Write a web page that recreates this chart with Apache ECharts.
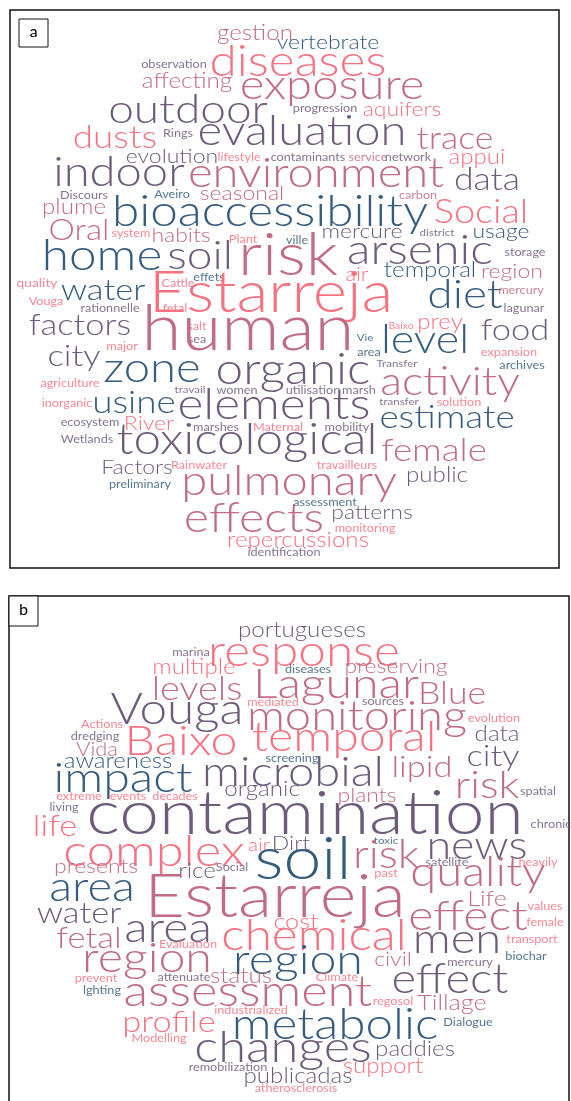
<!DOCTYPE html>
<html>
<head>
<meta charset="utf-8">
<script src="https://cdn.jsdelivr.net/npm/echarts@6/dist/echarts.min.js"></script>
<style>
  html, body { margin: 0; padding: 0; background: #fff; }
  #main { width: 571px; height: 1101px; }
</style>
</head>
<body>
<div id="main"></div>
<script>
// palette of the word cloud: blue, purple, mauve, pink
var palette = ['#355C7D', '#6C5B7B', '#C06C84', '#F67280'];
// the cloud font is wider than Lato, words get stretched a bit
var stretch = 1.15;

// panel a : word, centre (x, y on the page scale), weight, colour group
var wordsA = ['gestion','vertebrate','observation','diseases','affecting','exposure','progression','aquifers','outdoor','dusts',
  'Rings','evaluation','trace','evolution','lifestyle','contaminants','service','network','appui','indoor',
  'environment','data','Discours','Aveiro','seasonal','carbon','bioaccessibility','Social','plume','Oral',
  'system','habits','Plant','ville','mercure','district','usage','home','soil','risk',
  'arsenic','storage','temporal','air','region','quality','water','Cattle','effets','Estarreja',
  'diet','mercury','lagunar','Vouga','rationnelle','fetal','factors','salt','sea','human',
  'prey','Baixo','food','Vie','level','area','expansion','city','major','zone',
  'organic','Transfer','archives','activity','agriculture','travail','women','utilisation','marsh','inorganic',
  'usine','elements','transfer','solution','estimate','ecosystem','River','marshes','Maternal','mobility',
  'Wetlands','toxicological','female','Factors','Rainwater','travailleurs','preliminary','pulmonary','public','effects',
  'assessment','patterns','monitoring','repercussions','identification'];
var xA = [255,328,174,298,187,332,325,402,188,115,
  178,302,455,172,239,308,368,408,477,119,
  316,487,84,172,242,418,270,481,74,79,
  131,181,243,297,362,437,501,102,200,288,
  420,525,430,357,512,37,103,178,209,271,
  465,521,524,46,110,175,80,197,197,248,
  440,401,515,365,425,369,509,74,122,152,
  293,397,522,450,70,190,237,313,359,67,
  134,274,399,459,447,90,149,216,278,347,
  87,247,434,137,199,347,140,289,437,254,
  325,372,365,298,284];
var yA = [33,43,64,62,81,86,108,110,110,138,
  133,132,139,157,157,157,157,157,157,173,
  174,180,195,194,194,195,212,212,207,231,
  233,236,239,240,232,233,232,256,256,256,
  250,252,270,275,272,283,290,283,277,294,
  295,290,308,301,308,308,325,326,339,330,
  322,326,330,338,340,352,352,356,346,369,
  370,364,365,382,383,390,390,390,390,403,
  403,405,402,402,418,422,424,427,427,427,
  439,440,451,468,465,465,484,482,475,518,
  502,513,528,540,552];
var freqA = [21,20,11,43,21,41,11,20,40,32,
  11,41,31,20,11,11,11,11,21,41,
  41,31,11,11,20,11,43,33,21,29,
  11,20,11,11,20,10,20,43,40,59,
  42,11,21,19,20,12,30,11,11,57,
  40,11,11,11,11,11,30,11,11,63,
  21,9,30,10,39,11,11,30,11,41,
  43,10,11,39,11,10,11,11,11,11,
  32,43,10,11,32,11,20,11,11,11,
  11,43,32,20,11,11,11,41,21,42,
  11,20,11,21,11];
var toneA = [2,0,1,3,2,2,1,3,1,3,
  1,1,2,1,3,1,2,1,3,1,
  2,1,1,0,2,2,0,3,2,2,
  3,2,3,0,1,1,0,0,1,2,
  1,1,0,3,2,3,0,3,0,3,
  0,2,1,3,1,3,1,3,1,2,
  3,3,1,0,0,0,3,1,3,0,
  1,1,0,2,3,1,1,1,1,3,
  0,1,1,3,0,1,3,1,3,1,
  1,1,2,1,3,3,0,2,1,2,
  0,1,3,3,1];

// panel b
var wordsB = ['portugueses','marina','response','multiple','diseases','preserving','levels','Lagunar','Blue','mediated',
  'sources','Vouga','monitoring','evolution','Actions','dredging','data','Baixo','temporal','Vida',
  'screening','city','awareness','impact','microbial','lipid','organic','risk','spatial','extreme',
  'events','decades','plants','living','contamination','life','chronic','complex','air','Dirt',
  'toxic','news','soil','risk','heavily','satellite','presents','rice','Social','past',
  'quality','area','Estarreja','Life','values','water','effect','female','area','cost',
  'transport','fetal','chemical','men','Evaluation','region','region','civil','mercury','biochar',
  'prevent','attenuate','status','Climate','effect','lghting','assessment','regosol','Tillage','industrialized',
  'Dialogue','profile','metabolic','Modelling','changes','paddies','remobilization','support','publicadas','atherosclerosis'];
var xB = [302,191,304,194,308,396,197,336,452,273,
  383,177,357,494,102,95,497,181,344,97,
  292,493,118,123,293,422,262,487,538,79,
  128,175,367,64,305,55,551,154,259,291,
  386,477,303,386,538,447,96,197,232,386,
  478,92,275,487,545,79,468,545,168,296,
  532,89,314,457,188,147,298,393,470,526,
  96,184,241,337,450,102,248,393,452,251,
  468,169,335,159,283,415,228,383,298,296];
var yB = [630,652,652,667,669,667,689,684,694,702,
  701,710,717,718,724,736,734,741,737,750,
  758,756,761,778,773,767,789,786,791,796,
  796,796,796,807,814,826,824,852,845,844,
  841,846,860,855,862,862,867,871,867,873,
  873,888,897,899,906,913,916,922,928,922,
  939,938,936,940,944,958,960,960,962,956,
  978,977,976,977,980,990,992,1001,1003,1010,
  1022,1022,1025,1038,1048,1049,1067,1066,1076,1088];
var freqB = [21,11,43,21,11,20,33,42,31,11,
  11,43,41,11,11,11,21,42,42,19,
  11,30,21,42,41,30,21,38,11,11,
  11,11,20,11,62,30,11,44,18,20,
  10,39,59,39,11,11,20,21,11,11,
  41,41,61,22,11,30,42,11,42,22,
  11,30,43,41,11,42,42,20,11,11,
  11,11,21,11,41,11,44,11,22,11,
  11,30,43,11,44,21,11,21,21,11];
var toneB = [1,1,3,3,0,2,2,2,2,3,
  1,1,2,3,3,1,1,3,3,2,
  0,1,0,0,1,2,1,2,1,3,
  3,3,2,1,1,3,1,3,3,1,
  0,1,0,2,3,1,2,1,1,3,
  2,0,2,2,3,1,2,3,1,3,
  3,2,3,1,3,2,0,2,1,0,
  3,1,2,3,1,0,2,3,2,3,
  0,3,0,3,1,1,1,3,1,3];

function buildData(xs, ys, freqs, tones) {
  var out = [];
  for (var i = 0; i < xs.length; i++) {
    out.push([xs[i], ys[i], freqs[i], tones[i]]);
  }
  return out;
}

function cloudSeries(words, data) {
  return {
    type: 'custom',
    silent: true,
    encode: { x: 0, y: 1 },
    data: data,
    renderItem: function(params, api) {
      var pt = api.coord([api.value(0), api.value(1)]);
      var size = api.value(2);
      return {
        type: 'text',
        x: pt[0],
        y: pt[1],
        scaleX: stretch,
        style: {
          text: words[params.dataIndex],
          fontSize: size,
          fontFamily: 'Lato',
          fontWeight: size >= 15 ? 300 : 400,
          fill: palette[api.value(3)],
          opacity: size < 14 ? 0.85 : 1,
          align: 'center',
          verticalAlign: 'middle'
        }
      };
    }
  };
}

var chart = echarts.init(document.getElementById('main'), null, { renderer: 'canvas' });
var option = {
  backgroundColor: '#fff',
  animation: false,
  grid: { left: 0, top: 0, right: 0, bottom: 0 },
  xAxis: { type: 'value', min: 0, max: 571, show: false },
  yAxis: { type: 'value', min: 0, max: 1101, inverse: true, show: false },
  series: [
    cloudSeries(wordsA, buildData(xA, yA, freqA, toneA)),
    cloudSeries(wordsB, buildData(xB, yB, freqB, toneB))
  ],
  graphic: [
    { type: 'rect', shape: { x: 10, y: 10, width: 549, height: 558 }, style: { fill: 'none', stroke: '#111', lineWidth: 1.5 } },
    { type: 'rect', shape: { x: 19, y: 19, width: 29, height: 28 }, style: { fill: '#fff', stroke: '#111', lineWidth: 1 } },
    { type: 'text', x: 33.5, y: 33, style: { text: 'a', font: '17px Carlito, "Liberation Sans", sans-serif', fill: '#000', align: 'center', verticalAlign: 'middle' } },
    { type: 'rect', shape: { x: 9, y: 596, width: 560, height: 520 }, style: { fill: 'none', stroke: '#111', lineWidth: 1.5 } },
    { type: 'rect', shape: { x: 9, y: 596, width: 29, height: 30 }, style: { fill: '#fff', stroke: '#111', lineWidth: 1 } },
    { type: 'text', x: 23.5, y: 611, style: { text: 'b', font: '17px Carlito, "Liberation Sans", sans-serif', fill: '#000', align: 'center', verticalAlign: 'middle' } }
  ]
};
chart.setOption(option);
</script>
</body>
</html>
